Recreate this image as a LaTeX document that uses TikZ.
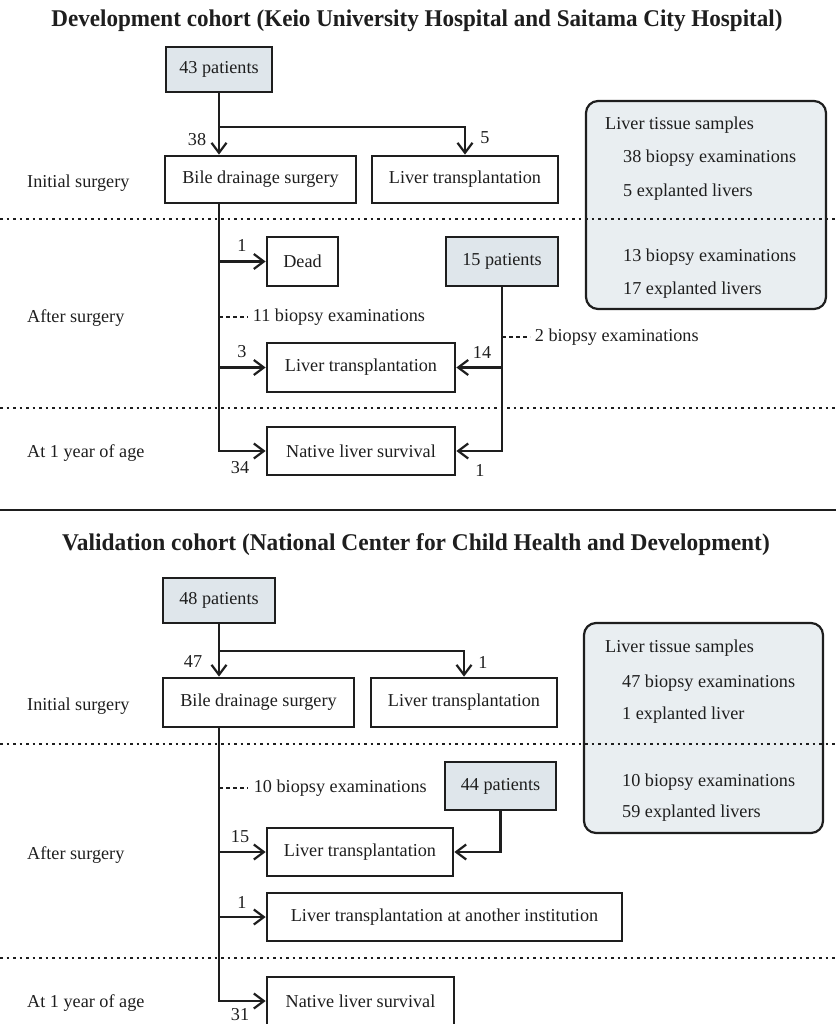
\documentclass[tikz,border=0pt]{standalone}
\usepackage{fontspec}
\setmainfont{Liberation Serif}
\usetikzlibrary{arrows.meta}

\definecolor{boxshade}{HTML}{DFE6EB}
\definecolor{tissueshade}{HTML}{E9EEF1}
\definecolor{ink}{HTML}{1E1E1E}

\begin{document}
\begin{tikzpicture}[
				x=1pt, y=-1pt,
				line join=miter,
				every node/.style={font=\fontsize{18.2}{22}\selectfont, text=ink},
				plainbox/.style={draw=ink, line width=2.7pt, inner sep=0pt, fill=white},
				patientbox/.style={plainbox, fill=boxshade},
				tissuebox/.style={draw=ink, line width=2.2pt, rounded corners=12pt, fill=tissueshade, inner sep=0pt},
				flow/.style={draw=ink, line width=2.2pt, -{Straight Barb[length=10pt,width=15pt]}},
				link/.style={draw=ink, line width=2.2pt},
				biopsy/.style={draw=ink, line width=1.7pt, dash pattern=on 4pt off 3pt},
				phase/.style={draw=ink, line width=2.5pt, dash pattern=on 2.5pt off 4pt},
				count/.style={inner sep=0pt},
				stage/.style={anchor=west, inner sep=0pt},
				note/.style={anchor=west, inner sep=0pt},
				heading/.style={font=\fontsize{24}{28}\selectfont\bfseries}
				]
				\useasboundingbox (0,0) rectangle (836,1024);
				
				% ---------------- Development cohort ----------------
				\node[heading] (title1) at (417,21) {\scalebox{0.962}[1]{Development cohort (Keio University Hospital and Saitama City Hospital)}};
				
				% Liver tissue samples
				\node[tissuebox, minimum width=240pt, minimum height=208pt] (tis1) at (706,205) {};
				\node[note] (tis1a) at (605,125) {Liver tissue samples};
				\node[note] (tis1b) at (623,158) {38 biopsy examinations};
				\node[note] (tis1c) at (623,192) {5 explanted livers};
				\node[note] (tis1d) at (623,257) {13 biopsy examinations};
				\node[note] (tis1e) at (623,290) {17 explanted livers};
				
				% Phase lines
				\draw[phase] (0,219) -- (836,219);
				\draw[phase] (0,408) -- (836,408);
				
				% Stages
				\node[stage] (init1) at (27,183) {Initial surgery};
				\node[stage] (after1) at (27,318) {After surgery};
				\node[stage] (year1) at (27,453) {At 1 year of age};
				
				% Boxes
				\node[patientbox, minimum width=106pt, minimum height=45pt] (p43) at (219,69.5) {43 patients};
				\node[plainbox, minimum width=191pt, minimum height=47pt] (bds1) at (260.5,179.5) {Bile drainage surgery};
				\node[plainbox, minimum width=186pt, minimum height=47pt] (lt1) at (465,179.5) {Liver transplantation};
				\node[plainbox, minimum width=71pt, minimum height=49pt] (dead) at (302.5,261.5) {Dead};
				\node[patientbox, minimum width=112pt, minimum height=49pt] (p15) at (502,261.5) {15 patients};
				\node[plainbox, minimum width=188pt, minimum height=49pt] (lt2) at (361,367.5) {Liver transplantation};
				\node[plainbox, minimum width=188pt, minimum height=48pt] (nls1) at (361,451) {Native liver survival};
				
				% Connectors
				\coordinate (split1) at (219,127);
				\draw[link] (p43.south) -- (split1);
				\draw[flow] (split1) -- (split1 |- bds1.north);
				\draw[flow] (split1) -| (lt1.north);
				\draw[flow] (split1 |- bds1.south) |- (nls1.west);
				\draw[flow] (split1 |- dead.west) -- (dead.west);
				\draw[flow] (split1 |- lt2.west) -- (lt2.west);
				\draw[flow] (p15.south) |- (nls1.east);
				\draw[flow] (p15.south |- lt2.east) -- (lt2.east);
				\draw[biopsy] (split1 |- 0,317) -- ++(29,0) node[note, xshift=4pt] (bio11) {11 biopsy examinations};
				\draw[biopsy] (p15.south |- 0,337) -- ++(28,0) node[note, xshift=4pt] (bio2) {2 biopsy examinations};
				
				% Counts
				\node[count] (n38) at (197,140) {38};
				\node[count] (n5) at (485,138) {5};
				\node[count] (n1a) at (242,245) {1};
				\node[count] (n3) at (242,352) {3};
				\node[count] (n14) at (482,352) {14};
				\node[count] (n34) at (240,468) {34};
				\node[count] (n1b) at (480,470) {1};
				
				% Cohort separator
				\draw[draw=ink, line width=2.8pt] (0,510) -- (836,510);
				
				% ---------------- Validation cohort ----------------
				\node[heading] (title2) at (416,545) {\scalebox{0.975}[1]{Validation cohort (National Center for Child Health and Development)}};
				
				% Liver tissue samples
				\node[tissuebox, minimum width=239pt, minimum height=210pt] (tis2) at (703.5,728) {};
				\node[note] (tis2a) at (605,648) {Liver tissue samples};
				\node[note] (tis2b) at (622,683) {47 biopsy examinations};
				\node[note] (tis2c) at (622,715) {1 explanted liver};
				\node[note] (tis2d) at (622,782) {10 biopsy examinations};
				\node[note] (tis2e) at (622,813) {59 explanted livers};
				
				% Phase lines
				\draw[phase] (0,744) -- (836,744);
				\draw[phase] (0,958) -- (836,958);
				
				% Stages
				\node[stage] (init2) at (27,706) {Initial surgery};
				\node[stage] (after2) at (27,855) {After surgery};
				\node[stage] (year2) at (27,1003) {At 1 year of age};
				
				% Boxes
				\node[patientbox, minimum width=112pt, minimum height=45pt] (p48) at (219,600.5) {48 patients};
				\node[plainbox, minimum width=191pt, minimum height=49pt] (bds2) at (258.5,702.5) {Bile drainage surgery};
				\node[plainbox, minimum width=186pt, minimum height=49pt] (lt3) at (464,702.5) {Liver transplantation};
				\node[patientbox, minimum width=111pt, minimum height=48pt] (p44) at (500.5,786) {44 patients};
				\node[plainbox, minimum width=186pt, minimum height=48pt] (lt4) at (360,852) {Liver transplantation};
				\node[plainbox, minimum width=355pt, minimum height=48pt] (lt5) at (444.5,917) {Liver transplantation at another institution};
				\node[plainbox, minimum width=187pt, minimum height=48pt] (nls2) at (360.5,1001) {Native liver survival};
				
				% Connectors
				\coordinate (split2) at (219,651);
				\draw[link] (p48.south) -- (split2);
				\draw[flow] (split2) -- (split2 |- bds2.north);
				\draw[flow] (split2) -| (lt3.north);
				\draw[flow] (split2 |- bds2.south) |- (nls2.west);
				\draw[flow] (split2 |- lt4.west) -- (lt4.west);
				\draw[flow] (split2 |- lt5.west) -- (lt5.west);
				\draw[flow] (p44.south) |- (lt4.east);
				\draw[biopsy] (split2 |- 0,788) -- ++(29,0) node[note, xshift=5pt] (bio10) {10 biopsy examinations};
				
				% Counts
				\node[count] (n47) at (193,662) {47};
				\node[count] (n1c) at (483,662) {1};
				\node[count] (n15) at (240,837) {15};
				\node[count] (n1d) at (242,902) {1};
				\node[count] (n31) at (240,1015) {31};
			\end{tikzpicture}
\end{document}
